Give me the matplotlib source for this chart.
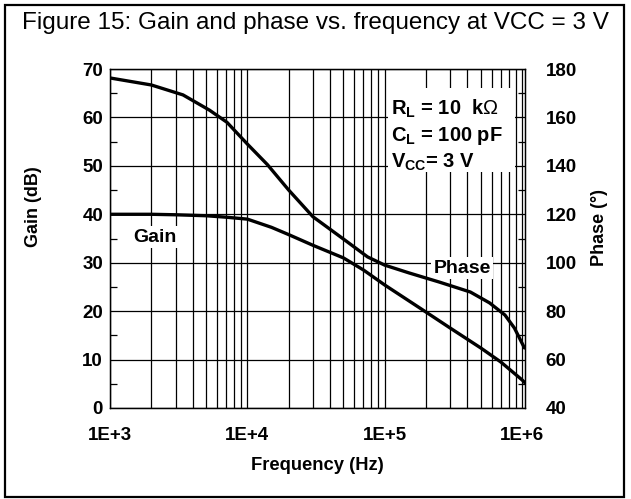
import numpy as np
import matplotlib.pyplot as plt
from matplotlib.patches import Rectangle
from matplotlib.ticker import FixedLocator, MultipleLocator

plt.rcParams['font.family'] = ['Liberation Sans', 'DejaVu Sans']
plt.rcParams['mathtext.fontset'] = 'custom'
plt.rcParams['mathtext.rm'] = 'Liberation Sans'
plt.rcParams['mathtext.bf'] = 'Liberation Sans:bold'
plt.rcParams['mathtext.it'] = 'Liberation Sans:italic'

# gain curve (dB)
gain_f = [1e3, 2e3, 3e3, 5e3, 7e3, 1e4, 1.5e4, 2e4, 3e4, 5e4, 7e4, 1e5,
          2e5, 3e5, 5e5, 7e5, 1e6, 1.05e6]
gain_db = [40.0, 40.0, 39.9, 39.7, 39.4, 39.0, 37.3, 35.8, 33.6, 31.0, 28.5, 25.4,
           19.8, 16.5, 12.4, 9.5, 5.8, 5.2]

# phase curve (deg)
phase_f = [1e3, 2e3, 3.4e3, 5.3e3, 7.1e3, 1e4, 1.4e4, 2e4, 3e4, 5e4, 7.5e4, 1e5,
           1.5e5, 2.5e5, 4.2e5, 5.8e5, 7.5e5, 8.8e5, 1.04e6]
phase_deg = [176.3, 173.4, 169.3, 163.0, 158.0, 149.0, 140.5, 130.0, 119.0, 109.8, 102.4, 99.0,
             95.8, 92.0, 87.9, 83.4, 78.4, 73.0, 64.8]

xticks = [1e3, 1e4, 1e5, 1e6]
xlabels = ['1E+3', '1E+4', '1E+5', '1E+6']
gain_ticks = [0, 10, 20, 30, 40, 50, 60, 70]
phase_ticks = [40, 60, 80, 100, 120, 140, 160, 180]

fig = plt.figure(figsize=(6.31, 4.99), dpi=100)
fig.patches.append(Rectangle((5/631, 2/499), 619/631, 492/499, transform=fig.transFigure,
                             fill=False, lw=1.6, ec='black'))
fig.text(22/631, 1 - 23/499, 'Figure 15: Gain and phase vs. frequency at VCC = 3 V',
         fontsize=17.5, va='center', ha='left')

ax = fig.add_axes([110/631, 1 - 408/499, 415/631, 339/499])
ax.set_xscale('log')
ax.set_xlim(1e3, 1.05e6)
ax.set_ylim(0, 70)
ax.xaxis.set_major_locator(FixedLocator(xticks))
ax.set_xticklabels(xlabels)
ax.xaxis.set_minor_locator(FixedLocator([m * d for d in [1e3, 1e4, 1e5] for m in range(2, 10)]))
ax.xaxis.set_minor_formatter(plt.NullFormatter())
ax.set_yticks(gain_ticks)
ax.yaxis.set_minor_locator(MultipleLocator(5))
ax.grid(True, which='major', color='black', lw=0.9)
ax.grid(True, which='minor', axis='x', color='black', lw=0.9)
ax.tick_params(axis='x', which='both', length=0, pad=14)
ax.tick_params(axis='y', which='major', length=0, pad=5)
ax.tick_params(axis='y', which='minor', direction='in', length=5, width=0.9)
for lab in ax.get_xticklabels() + ax.get_yticklabels():
    lab.set_fontweight('bold')
    lab.set_fontsize(13.5)
for s in ax.spines.values():
    s.set_linewidth(1.0)

ax.add_patch(Rectangle((0.670, 0.696), 0.306, 0.248, transform=ax.transAxes,
                       fc='white', ec='none', zorder=2.5))
ax.plot(gain_f, gain_db, color='black', lw=2.4, zorder=3, solid_capstyle='round')

ax2 = ax.twinx()
ax2.set_ylim(40, 180)
ax2.set_yticks(phase_ticks)
ax2.yaxis.set_minor_locator(MultipleLocator(10))
ax2.tick_params(axis='y', which='major', direction='in', length=0, pad=15)
ax2.tick_params(axis='y', which='minor', direction='in', length=5, width=0.9)
for lab in ax2.get_yticklabels():
    lab.set_fontweight('bold')
    lab.set_fontsize(13.5)
ax2.plot(phase_f, phase_deg, color='black', lw=2.4, zorder=3, solid_capstyle='round')

txt = dict(fontsize=14.5, fontweight='bold', transform=ax.transAxes, va='center', ha='left', zorder=4)
ax2.text(0.677, (408 - 109) / 339, r'R$_\mathbf{L}$ = 10  k$\mathrm{\Omega}$', **txt)
ax2.text(0.677, (408 - 136) / 339, r'C$_\mathbf{L}$ = 100 pF', **txt)
ax2.text(0.677, (408 - 162) / 339, r'V$_\mathbf{CC}$= 3 V', **txt)

box = dict(fc='white', ec='none', pad=1.5)
ax2.text((155 - 110) / 415, (408 - 237) / 339, 'Gain', fontsize=14, fontweight='bold',
         transform=ax.transAxes, ha='center', va='center', bbox=box, zorder=2.8)
ax2.text((462 - 110) / 415, (408 - 268) / 339, 'Phase', fontsize=14, fontweight='bold',
         transform=ax.transAxes, ha='center', va='center', bbox=box, zorder=2.8)

fig.text(33/631, 1 - 207/499, 'Gain (dB)', rotation=90, fontsize=13, fontweight='bold',
         ha='center', va='center')
fig.text(600/631, 1 - 227/499, 'Phase (°)', rotation=90, fontsize=13, fontweight='bold',
         ha='center', va='center')
fig.text(317/631, 1 - 465/499, 'Frequency (Hz)', fontsize=13.2, fontweight='bold',
         ha='center', va='center')

fig.savefig('out.png', dpi=100)
